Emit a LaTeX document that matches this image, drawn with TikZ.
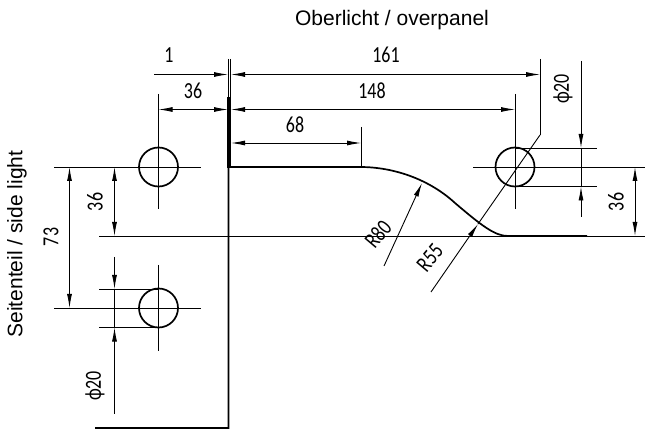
\documentclass[tikz,border=0pt]{standalone}
\usepackage{fontspec}
\setmainfont{Liberation Sans}
\newfontfamily\dimfont[FakeStretch=0.78]{Carlito}
\usetikzlibrary{arrows.meta}
\tikzset{
	>={Latex[length=14pt,width=5pt]},
	kontur/.style={line width=1.7pt},
	mass/.style={line width=0.9pt},
	masstext/.style={font=\dimfont\fontsize{23}{23}\selectfont,inner sep=0pt},
	titel/.style={font=\fontsize{21}{22}\selectfont,inner sep=0pt}
}
\begin{document}
\begin{tikzpicture}[x=1pt,y=-1pt]
	\useasboundingbox (0,0) rectangle (645,430);
	% Kontur
	\draw[kontur] (95,428) -- (228.5,428) -- (228.5,167) -- (360,167)
		.. controls (395,167) and (430,180) .. (455,203)
		.. controls (482,226) and (495,236) .. (508,236) -- (587,236);
	\draw[line width=3.4pt] (229,97) -- (229,168);
	\draw[mass] (228,59) -- (228,97);
	\draw[mass] (230.5,59) -- (230.5,97);
	% Bohrungen
	\draw[kontur] (158.5,167) circle (19.5);
	\draw[kontur] (158.5,308) circle (19.5);
	\draw[kontur] (515,167) circle (19.5);
	% Hilfslinien
	\draw[mass] (54,167) -- (201,167);
	\draw[mass] (158.5,94) -- (158.5,209);
	\draw[mass] (54,308) -- (201,308);
	\draw[mass] (158.5,265) -- (158.5,351);
	\draw[mass] (99,289) -- (158.5,289);
	\draw[mass] (99,327.5) -- (158.5,327.5);
	\draw[mass] (473,167) -- (645,167);
	\draw[mass] (515,94) -- (515,209);
	\draw[mass] (515,148) -- (597,148);
	\draw[mass] (515,186.5) -- (597,186.5);
	\draw[mass] (99,236) -- (645,236);
	\draw[mass] (361,127) -- (361,167);
	\draw[mass] (540,59) -- (540,135);
	% Masse oben
	\draw[mass,->] (154,74.5) -- (228,74.5);
	\draw[mass,<->] (231,74.5) -- (540,74.5);
	\draw[mass,<->] (158.5,109.5) -- (228,109.5);
	\draw[mass,<->] (231,109.5) -- (515,109.5);
	\draw[mass,<->] (231,143) -- (361,143);
	% Masse links
	\draw[mass,<->] (69.5,167) -- (69.5,308);
	\draw[mass,<->] (114.5,167) -- (114.5,236);
	\draw[mass,->] (114.5,257) -- (114.5,289);
	\draw[mass,<-] (114.5,327.5) -- (114.5,414);
	\draw[mass] (114.5,289) -- (114.5,327.5);
	% Masse rechts
	\draw[mass,->] (581,61) -- (581,148);
	\draw[mass] (581,148) -- (581,186.5);
	\draw[mass,<-] (581,186.5) -- (581,217);
	\draw[mass,<->] (635,167) -- (635,236);
	% Radien
	\draw[mass,->] (384,266) -- (422,183);
	\draw[mass,->] (431,292) -- (478,224);
	\draw[mass] (478,224) -- (540,135);
	% Beschriftung
	\node[titel] (oberlicht) at (392,20) {Oberlicht / overpanel};
	\node[titel,rotate=90] (seitenteil) at (17,244) {Seitenteil / side light};
	\node[masstext] (m1) at (169,55) {1};
	\node[masstext] (m36o) at (193,91) {36};
	\node[masstext] (m161) at (386,55) {161};
	\node[masstext] (m148) at (372,91) {148};
	\node[masstext] (m68) at (295,125) {68};
	\node[masstext,rotate=90] (m36l) at (95,202) {36};
	\node[masstext,rotate=90] (m73) at (51,237) {73};
	\node[masstext,rotate=90] (m36r) at (616,202) {36};
	\node[masstext,rotate=90] (d20r) at (563,89) {ϕ20};
	\node[masstext,rotate=90] (d20l) at (95,386) {ϕ20};
	\node[masstext,rotate=50] (r80) at (378,234) {R80};
	\node[masstext,rotate=50] (r55) at (430,258) {R55};
\end{tikzpicture}
\end{document}
